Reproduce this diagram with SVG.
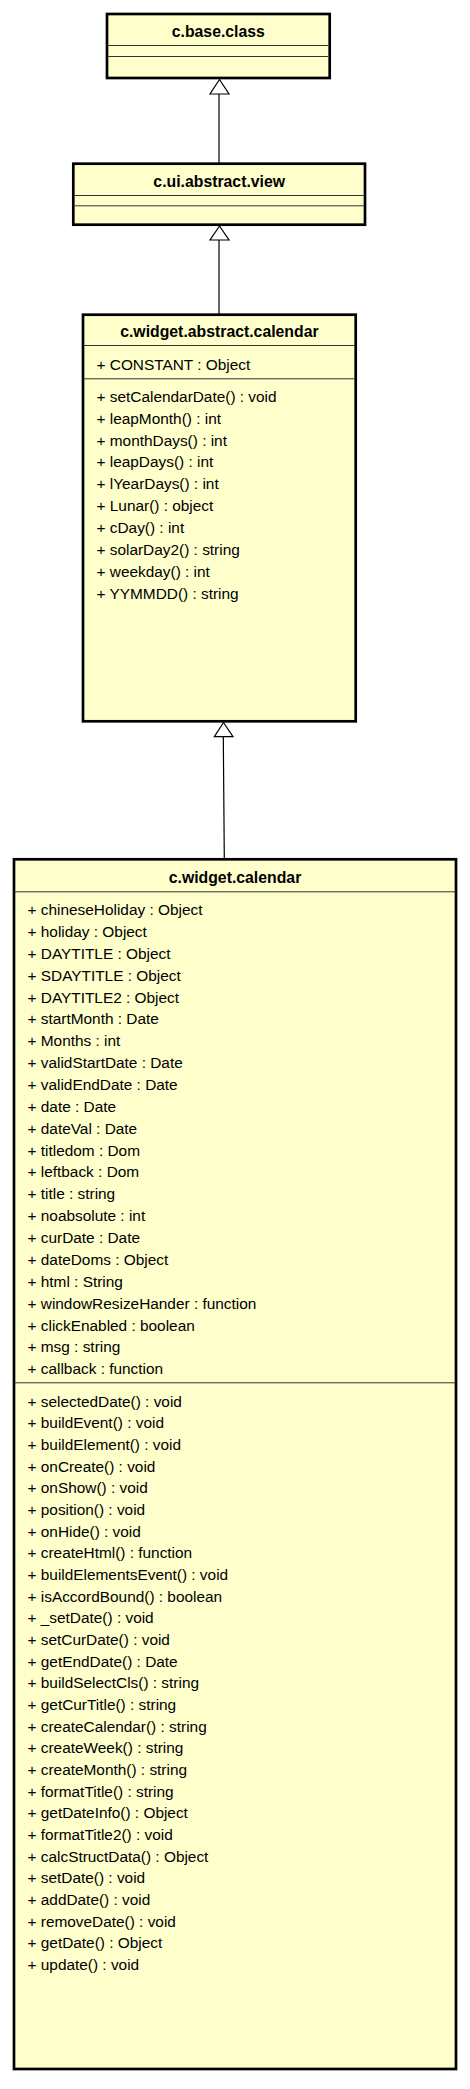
<svg xmlns="http://www.w3.org/2000/svg" width="470" height="2089" viewBox="0 0 470 2089">
<style>
.box{fill:#ffffcc;stroke:#000;stroke-width:2.7}
.sep{stroke:#333;stroke-width:1;fill:none}
.t{font-family:"Liberation Sans",Arial,sans-serif;font-size:15.8px;font-weight:bold;fill:#000;text-anchor:middle}
.m{font-family:"Liberation Sans",Arial,sans-serif;font-size:15.4px;fill:#000}
.edge{stroke:#000;stroke-width:1.2;fill:none}
.head{fill:#fff;stroke:#000;stroke-width:1.2}
</style>
<rect width="470" height="2089" fill="#fff"/>
<g id="connectors">
<line class="edge" x1="219" y1="94" x2="219" y2="163"/>
<polygon class="head" points="219.5,79.5 210,94 229,94"/>
<line class="edge" x1="219" y1="240" x2="219" y2="314"/>
<polygon class="head" points="219.5,226 210,240 229,240"/>
<line class="edge" x1="223.3" y1="736.7" x2="224.3" y2="858"/>
<polygon class="head" points="223.5,722.5 214.3,736.7 233,736.7"/>
</g>
<g id="c.base.class">
<rect class="box" x="107" y="14" width="222.7" height="64"/>
<text class="t" x="218.3" y="36.7">c.base.class</text>
<line class="sep" x1="108" y1="45.5" x2="328.5" y2="45.5"/>
<line class="sep" x1="108" y1="56.5" x2="328.5" y2="56.5"/>
</g>
<g id="c.ui.abstract.view">
<rect class="box" x="73.3" y="163.7" width="291.7" height="61"/>
<text class="t" x="219.2" y="186.7">c.ui.abstract.view</text>
<line class="sep" x1="74.5" y1="195.5" x2="364" y2="195.5"/>
<line class="sep" x1="74.5" y1="205.8" x2="364" y2="205.8"/>
</g>
<g id="c.widget.abstract.calendar">
<rect class="box" x="83" y="314.7" width="272.7" height="406.6"/>
<text class="t" x="219.4" y="336.7">c.widget.abstract.calendar</text>
<line class="sep" x1="84" y1="345.5" x2="354.5" y2="345.5"/>
<text class="m" x="96.5" y="370">+ CONSTANT : Object</text>
<line class="sep" x1="84" y1="378.8" x2="354.5" y2="378.8"/>
<text class="m" x="96.5" y="401.7">+ setCalendarDate() : void</text>
<text class="m" x="96.5" y="423.6">+ leapMonth() : int</text>
<text class="m" x="96.5" y="445.5">+ monthDays() : int</text>
<text class="m" x="96.5" y="467.4">+ leapDays() : int</text>
<text class="m" x="96.5" y="489.3">+ lYearDays() : int</text>
<text class="m" x="96.5" y="511.2">+ Lunar() : object</text>
<text class="m" x="96.5" y="533.1">+ cDay() : int</text>
<text class="m" x="96.5" y="555">+ solarDay2() : string</text>
<text class="m" x="96.5" y="576.9">+ weekday() : int</text>
<text class="m" x="96.5" y="598.8">+ YYMMDD() : string</text>
</g>
<g id="c.widget.calendar">
<rect class="box" x="14" y="859.3" width="442" height="1209.7"/>
<text class="t" x="235" y="882.7">c.widget.calendar</text>
<line class="sep" x1="15" y1="891.8" x2="455" y2="891.8"/>
<text class="m" x="27.5" y="915">+ chineseHoliday : Object</text>
<text class="m" x="27.5" y="936.9">+ holiday : Object</text>
<text class="m" x="27.5" y="958.7">+ DAYTITLE : Object</text>
<text class="m" x="27.5" y="980.6">+ SDAYTITLE : Object</text>
<text class="m" x="27.5" y="1002.5">+ DAYTITLE2 : Object</text>
<text class="m" x="27.5" y="1024.4">+ startMonth : Date</text>
<text class="m" x="27.5" y="1046.2">+ Months : int</text>
<text class="m" x="27.5" y="1068.1">+ validStartDate : Date</text>
<text class="m" x="27.5" y="1090">+ validEndDate : Date</text>
<text class="m" x="27.5" y="1111.8">+ date : Date</text>
<text class="m" x="27.5" y="1133.7">+ dateVal : Date</text>
<text class="m" x="27.5" y="1155.6">+ titledom : Dom</text>
<text class="m" x="27.5" y="1177.4">+ leftback : Dom</text>
<text class="m" x="27.5" y="1199.3">+ title : string</text>
<text class="m" x="27.5" y="1221.2">+ noabsolute : int</text>
<text class="m" x="27.5" y="1243.1">+ curDate : Date</text>
<text class="m" x="27.5" y="1264.9">+ dateDoms : Object</text>
<text class="m" x="27.5" y="1286.8">+ html : String</text>
<text class="m" x="27.5" y="1308.7">+ windowResizeHander : function</text>
<text class="m" x="27.5" y="1330.5">+ clickEnabled : boolean</text>
<text class="m" x="27.5" y="1352.4">+ msg : string</text>
<text class="m" x="27.5" y="1374.3">+ callback : function</text>
<line class="sep" x1="15" y1="1382.8" x2="455" y2="1382.8"/>
<text class="m" x="27.5" y="1406.7">+ selectedDate() : void</text>
<text class="m" x="27.5" y="1428.4">+ buildEvent() : void</text>
<text class="m" x="27.5" y="1450">+ buildElement() : void</text>
<text class="m" x="27.5" y="1471.7">+ onCreate() : void</text>
<text class="m" x="27.5" y="1493.4">+ onShow() : void</text>
<text class="m" x="27.5" y="1515">+ position() : void</text>
<text class="m" x="27.5" y="1536.7">+ onHide() : void</text>
<text class="m" x="27.5" y="1558.4">+ createHtml() : function</text>
<text class="m" x="27.5" y="1580.1">+ buildElementsEvent() : void</text>
<text class="m" x="27.5" y="1601.7">+ isAccordBound() : boolean</text>
<text class="m" x="27.5" y="1623.4">+ _setDate() : void</text>
<text class="m" x="27.5" y="1645.1">+ setCurDate() : void</text>
<text class="m" x="27.5" y="1666.7">+ getEndDate() : Date</text>
<text class="m" x="27.5" y="1688.4">+ buildSelectCls() : string</text>
<text class="m" x="27.5" y="1710.1">+ getCurTitle() : string</text>
<text class="m" x="27.5" y="1731.7">+ createCalendar() : string</text>
<text class="m" x="27.5" y="1753.4">+ createWeek() : string</text>
<text class="m" x="27.5" y="1775.1">+ createMonth() : string</text>
<text class="m" x="27.5" y="1796.8">+ formatTitle() : string</text>
<text class="m" x="27.5" y="1818.4">+ getDateInfo() : Object</text>
<text class="m" x="27.5" y="1840.1">+ formatTitle2() : void</text>
<text class="m" x="27.5" y="1861.8">+ calcStructData() : Object</text>
<text class="m" x="27.5" y="1883.4">+ setDate() : void</text>
<text class="m" x="27.5" y="1905.1">+ addDate() : void</text>
<text class="m" x="27.5" y="1926.8">+ removeDate() : void</text>
<text class="m" x="27.5" y="1948.4">+ getDate() : Object</text>
<text class="m" x="27.5" y="1970.1">+ update() : void</text>
</g>
</svg>
